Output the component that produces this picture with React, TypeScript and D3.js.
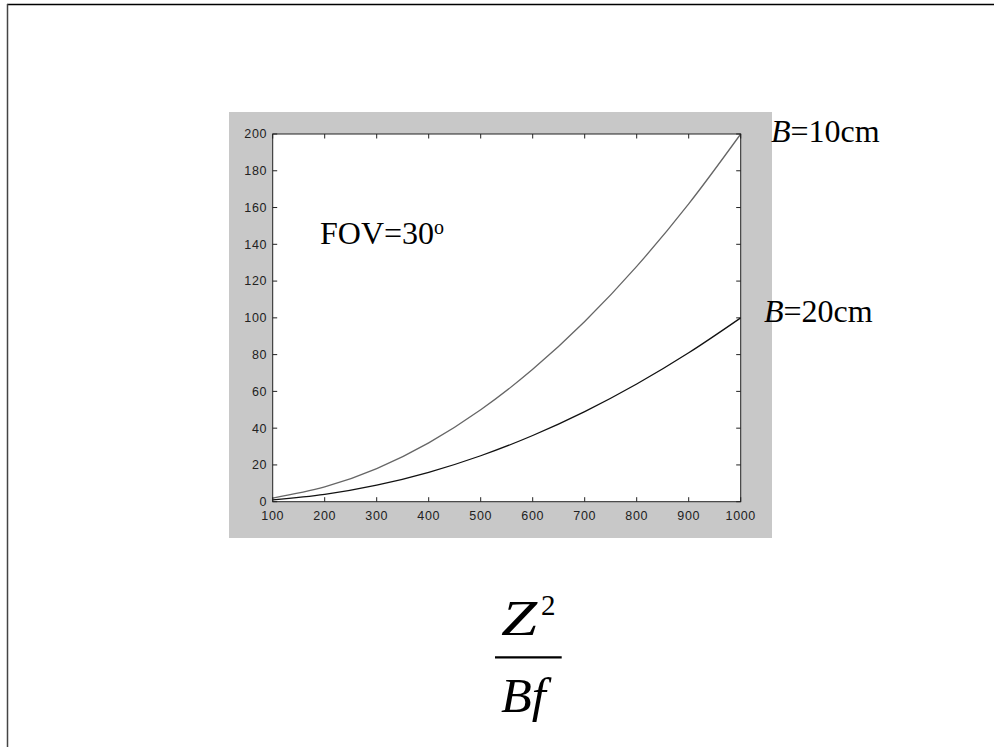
import React from "react";
import * as d3 from "d3";

const zValues = [100, 200, 300, 400, 500, 600, 700, 800, 900, 1000];
const seriesB10 = [2, 8, 18, 32, 50, 72, 98, 128, 162, 200];
const seriesB20 = [1, 4, 9, 16, 25, 36, 49, 64, 81, 100];
const xTicks = [100, 200, 300, 400, 500, 600, 700, 800, 900, 1000];
const yTicks = [0, 20, 40, 60, 80, 100, 120, 140, 160, 180, 200];

export default function App() {
  const W = 994, H = 747;
  const L = 272.7, R = 740.7, T = 134, B = 501.7;
  const x = d3.scaleLinear().domain([100, 1000]).range([L, R]);
  const y = d3.scaleLinear().domain([0, 200]).range([B, T]);
  const line = d3
    .line<number>()
    .x((_, i) => x(zValues[i]))
    .y((d) => y(d))
    .curve(d3.curveMonotoneX);
  const tickLen = 4.5;
  const tickFont = { fontFamily: "'Liberation Sans', Arial, sans-serif", fontSize: 12.5, letterSpacing: 0.6, fill: "#222" };
  const serif = "'Liberation Serif', 'Times New Roman', serif";

  return (
    <svg width={W} height={H} style={{ position: "absolute", left: 0, top: 0, background: "#fff" }}>
      {/* page frame */}
      <line x1={7} y1={4.5} x2={W} y2={4.5} stroke="#000" strokeWidth={1.5} />
      <line x1={7.5} y1={4} x2={7.5} y2={H} stroke="#444" strokeWidth={1.5} />

      {/* gray figure background */}
      <rect x={229} y={112} width={543} height={426} fill="#c8c8c8" />
      <rect x={L} y={T} width={R - L} height={B - T} fill="#fff" />

      {/* curves */}
      <path d={line(seriesB10) || ""} fill="none" stroke="#666" strokeWidth={1.3} />
      <path d={line(seriesB20) || ""} fill="none" stroke="#111" strokeWidth={1.3} />

      {/* axes box */}
      <rect x={L} y={T} width={R - L} height={B - T} fill="none" stroke="#222" strokeWidth={1} />

      {/* x ticks */}
      {xTicks.map((t) => (
        <g key={"x" + t}>
          <line x1={x(t)} x2={x(t)} y1={B} y2={B - tickLen} stroke="#222" />
          <line x1={x(t)} x2={x(t)} y1={T} y2={T + tickLen} stroke="#222" />
          <text x={x(t)} y={519.5} textAnchor="middle" {...tickFont}>
            {t}
          </text>
        </g>
      ))}
      {/* y ticks */}
      {yTicks.map((t) => (
        <g key={"y" + t}>
          <line x1={L} x2={L + tickLen} y1={y(t)} y2={y(t)} stroke="#222" />
          <line x1={R} x2={R - tickLen} y1={y(t)} y2={y(t)} stroke="#222" />
          <text x={267} y={y(t)} dy="0.35em" textAnchor="end" {...tickFont}>
            {t}
          </text>
        </g>
      ))}

      {/* annotations */}
      <text x={320} y={244.3} fontFamily={serif} fontSize={32} fill="#000">
        FOV=30
        <tspan fontSize={20} dy={-10}>o</tspan>
      </text>
      <text x={771} y={142.3} fontFamily={serif} fontSize={32} fill="#000">
        <tspan fontStyle="italic">B</tspan>=10cm
      </text>
      <text x={764} y={322.3} fontFamily={serif} fontSize={32} fill="#000">
        <tspan fontStyle="italic">B</tspan>=20cm
      </text>

      {/* formula */}
      <g transform="translate(501,635) scale(1.3,1)">
        <text x={0} y={0} fontFamily={serif} fontSize={50} fontStyle="italic" fill="#000">
          Z
        </text>
      </g>
      <text x={541} y={615} fontFamily={serif} fontSize={29} fill="#000">
        2
      </text>
      <line x1={495} x2={561.7} y1={657.3} y2={657.3} stroke="#000" strokeWidth={2.2} />
      <g transform="translate(501,711.7) scale(1.05,1)">
        <text x={0} y={0} fontFamily={serif} fontSize={48} fontStyle="italic" fill="#000">
          Bf
        </text>
      </g>
    </svg>
  );
}
